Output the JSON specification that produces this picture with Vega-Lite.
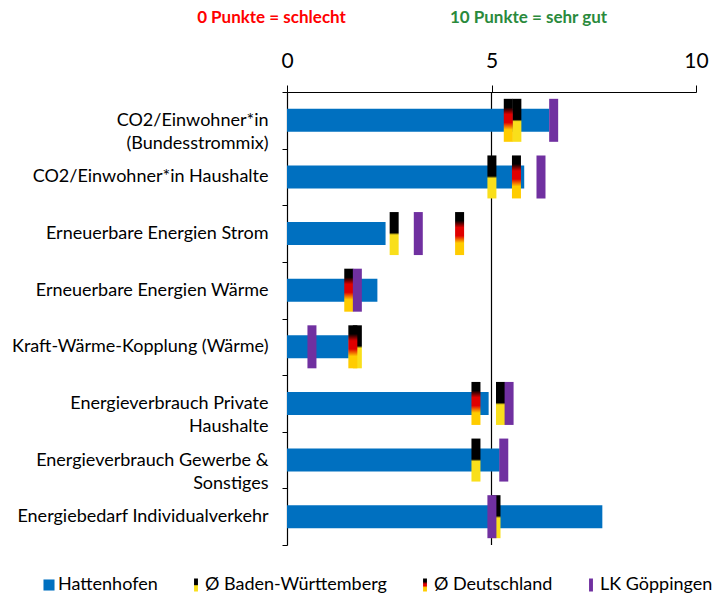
{
  "$schema": "https://vega.github.io/schema/vega-lite/v6.json",
  "width": 409,
  "height": 453,
  "autosize": {"type": "none"},
  "padding": {"left": 287, "top": 92, "right": 29, "bottom": 56},
  "background": "white",
  "config": {"view": {"stroke": null}, "font": "Lato"},
  "data": {"values": [
    {"cat": "CO2/Einwohner*in|(Bundesstrommix)", "series": "Hattenhofen", "value": 6.41},
    {"cat": "CO2/Einwohner*in Haushalte", "series": "Hattenhofen", "value": 5.80},
    {"cat": "Erneuerbare Energien Strom", "series": "Hattenhofen", "value": 2.41},
    {"cat": "Erneuerbare Energien Wärme", "series": "Hattenhofen", "value": 2.21},
    {"cat": "Kraft-Wärme-Kopplung (Wärme)", "series": "Hattenhofen", "value": 1.51},
    {"cat": "Energieverbrauch Private|Haushalte", "series": "Hattenhofen", "value": 4.93},
    {"cat": "Energieverbrauch Gewerbe &|Sonstiges", "series": "Hattenhofen", "value": 5.20},
    {"cat": "Energiebedarf Individualverkehr", "series": "Hattenhofen", "value": 7.71},
    {"cat": "CO2/Einwohner*in|(Bundesstrommix)", "series": "Ø Baden-Württemberg", "value": 5.62},
    {"cat": "CO2/Einwohner*in Haushalte", "series": "Ø Baden-Württemberg", "value": 5.01},
    {"cat": "Erneuerbare Energien Strom", "series": "Ø Baden-Württemberg", "value": 2.62},
    {"cat": "Kraft-Wärme-Kopplung (Wärme)", "series": "Ø Baden-Württemberg", "value": 1.72},
    {"cat": "Energieverbrauch Private|Haushalte", "series": "Ø Baden-Württemberg", "value": 5.22},
    {"cat": "Energieverbrauch Gewerbe &|Sonstiges", "series": "Ø Baden-Württemberg", "value": 4.62},
    {"cat": "Energiebedarf Individualverkehr", "series": "Ø Baden-Württemberg", "value": 5.11},
    {"cat": "CO2/Einwohner*in|(Bundesstrommix)", "series": "Ø Deutschland", "value": 5.41},
    {"cat": "CO2/Einwohner*in Haushalte", "series": "Ø Deutschland", "value": 5.61},
    {"cat": "Erneuerbare Energien Strom", "series": "Ø Deutschland", "value": 4.22},
    {"cat": "Erneuerbare Energien Wärme", "series": "Ø Deutschland", "value": 1.51},
    {"cat": "Kraft-Wärme-Kopplung (Wärme)", "series": "Ø Deutschland", "value": 1.61},
    {"cat": "Energieverbrauch Private|Haushalte", "series": "Ø Deutschland", "value": 4.62},
    {"cat": "CO2/Einwohner*in|(Bundesstrommix)", "series": "LK Göppingen", "value": 6.52},
    {"cat": "CO2/Einwohner*in Haushalte", "series": "LK Göppingen", "value": 6.21},
    {"cat": "Erneuerbare Energien Strom", "series": "LK Göppingen", "value": 3.21},
    {"cat": "Erneuerbare Energien Wärme", "series": "LK Göppingen", "value": 1.72},
    {"cat": "Kraft-Wärme-Kopplung (Wärme)", "series": "LK Göppingen", "value": 0.61},
    {"cat": "Energieverbrauch Private|Haushalte", "series": "LK Göppingen", "value": 5.43},
    {"cat": "Energieverbrauch Gewerbe &|Sonstiges", "series": "LK Göppingen", "value": 5.30},
    {"cat": "Energiebedarf Individualverkehr", "series": "LK Göppingen", "value": 5.01}
  ]},
  "layer": [
    {
      "data": {"values": [{"value": 5}]},
      "mark": {"type": "rule", "color": "#000000", "strokeWidth": 1.2},
      "encoding": {"x": {"field": "value", "type": "quantitative"}}
    },
    {
      "transform": [{"filter": "datum.series === 'Hattenhofen'"}],
      "mark": {"type": "bar", "size": 23},
      "encoding": {
        "y": {
          "field": "cat", "type": "nominal",
          "scale": {"domain": ["CO2/Einwohner*in|(Bundesstrommix)", "CO2/Einwohner*in Haushalte", "Erneuerbare Energien Strom", "Erneuerbare Energien Wärme", "Kraft-Wärme-Kopplung (Wärme)", "Energieverbrauch Private|Haushalte", "Energieverbrauch Gewerbe &|Sonstiges", "Energiebedarf Individualverkehr"], "paddingInner": 0, "paddingOuter": 0},
          "axis": {
            "title": "0 Punkte = schlecht", "titleColor": "#ff0000", "titleFont": "Lato", "titleFontSize": 17, "titleFontWeight": "bold",
            "titleAngle": 0, "titleX": -16, "titleY": -75, "titleAlign": "center", "titleBaseline": "middle",
            "labelExpr": "split(replace(replace(datum.label, '|Haushalte', '|Haushalte\u00a0\u00a0\u00a0\u00a0\u00a0\u00a0\u00a0\u00a0\u00a0\u00a0\u00a0\u00a0\u00a0\u00a0\u00a0\u00a0\u00a0'), '|Sonstiges', '|Sonstiges\u00a0\u00a0\u00a0\u00a0\u00a0\u00a0\u00a0\u00a0\u00a0\u00a0\u00a0\u00a0\u00a0\u00a0\u00a0\u00a0\u00a0\u00a0\u00a0\u00a0\u00a0\u00a0'), '|')",
            "labelFont": "Lato", "labelFontSize": 18, "labelColor": "#000000",
            "labelLineHeight": 23, "labelLimit": 400, "labelPadding": 14,
            "tickBand": "extent", "tickSize": 5, "tickColor": "#000000", "domainColor": "#000000", "domainWidth": 1.2, "grid": false
          }
        },
        "x": {
          "field": "value", "type": "quantitative",
          "scale": {"domain": [0, 10], "nice": false, "zero": true},
          "axis": {
            "orient": "top", "values": [0, 5, 10], "grid": false,
            "labelFont": "Lato", "labelFontSize": 21, "labelColor": "#000000", "labelPadding": 14, "labelFlush": false,
            "tickSize": 7, "tickColor": "#000000", "domainColor": "#000000", "domainWidth": 1.2,
            "title": "10 Punkte = sehr gut", "titleColor": "#2a8a3c", "titleFont": "Lato", "titleFontSize": 17, "titleFontWeight": "bold",
            "titleX": 241, "titleY": -75, "titleAlign": "center", "titleBaseline": "middle", "titleAngle": 0
          }
        },
        "color": {
          "field": "series", "type": "nominal",
          "scale": {"domain": ["Hattenhofen", "Ø Baden-Württemberg", "Ø Deutschland", "LK Göppingen"],
            "range": ["#0070c0",
              {"expr": "{gradient: 'linear', x1: 0, y1: 0, x2: 0, y2: 1, stops: [{offset: 0, color: '#000000'}, {offset: 0.46, color: '#000000'}, {offset: 0.56, color: '#f9df1b'}, {offset: 1, color: '#f9df1b'}]}"},
              {"expr": "{gradient: 'linear', x1: 0, y1: 0, x2: 0, y2: 1, stops: [{offset: 0, color: '#000000'}, {offset: 0.25, color: '#000000'}, {offset: 0.42, color: '#e00000'}, {offset: 0.55, color: '#e00000'}, {offset: 0.7, color: '#ffcc00'}, {offset: 1, color: '#ffcc00'}]}"},
              "#7030a0"]}
        }
      }
    },
    {
      "transform": [{"filter": "datum.series === 'Ø Baden-Württemberg'"}],
      "mark": {"type": "tick", "thickness": 9, "size": 43, "opacity": 1, "filled": true,
        "fill": {"gradient": "linear", "x1": 0, "y1": 0, "x2": 0, "y2": 1, "stops": [{"offset": 0, "color": "#000000"}, {"offset": 0.48, "color": "#000000"}, {"offset": 0.53, "color": "#f9df1b"}, {"offset": 1, "color": "#f9df1b"}]}},
      "encoding": {
        "y": {"field": "cat", "type": "nominal"},
        "x": {"field": "value", "type": "quantitative"}
      }
    },
    {
      "transform": [{"filter": "datum.series === 'Ø Deutschland'"}],
      "mark": {"type": "tick", "thickness": 9, "size": 43, "opacity": 1, "filled": true,
        "fill": {"gradient": "linear", "x1": 0, "y1": 0, "x2": 0, "y2": 1, "stops": [{"offset": 0, "color": "#000000"}, {"offset": 0.2, "color": "#000000"}, {"offset": 0.36, "color": "#e00000"}, {"offset": 0.55, "color": "#e00000"}, {"offset": 0.72, "color": "#ffcc00"}, {"offset": 1, "color": "#ffcc00"}]}},
      "encoding": {
        "y": {"field": "cat", "type": "nominal"},
        "x": {"field": "value", "type": "quantitative"}
      }
    },
    {
      "transform": [{"filter": "datum.series === 'LK Göppingen'"}],
      "mark": {"type": "tick", "thickness": 9, "size": 43, "opacity": 1, "filled": true, "fill": "#7030a0"},
      "encoding": {
        "y": {"field": "cat", "type": "nominal"},
        "x": {"field": "value", "type": "quantitative"}
      }
    },
    {
      "mark": {"type": "point", "filled": true, "opacity": 0},
      "encoding": {
        "y": {"field": "cat", "type": "nominal"},
        "x": {"field": "value", "type": "quantitative"},
        "color": {"field": "series", "type": "nominal",
          "legend": {"title": null, "orient": "none", "direction": "horizontal", "legendX": -247, "legendY": 484,
            "labelFont": "Lato", "labelFontSize": 18, "labelColor": "#000000", "columnPadding": 29, "labelOffset": 0, "labelLimit": 400,
            "symbolSize": 169, "symbolOpacity": 1, "symbolStrokeWidth": 0}},
        "shape": {"field": "series", "type": "nominal",
          "scale": {"domain": ["Hattenhofen", "Ø Baden-Württemberg", "Ø Deutschland", "LK Göppingen"],
            "range": ["M-0.85,-0.85H0.85V0.85H-0.85Z", "M-0.3,-1H0.3V1H-0.3Z", "M-0.3,-1H0.3V1H-0.3Z", "M-0.3,-1H0.3V1H-0.3Z"]},
          "legend": {"title": null, "orient": "none", "direction": "horizontal", "legendX": -247, "legendY": 484,
            "labelFont": "Lato", "labelFontSize": 18, "labelColor": "#000000", "columnPadding": 29, "labelOffset": 0, "labelLimit": 400,
            "symbolSize": 169, "symbolOpacity": 1, "symbolStrokeWidth": 0}}
      }
    }
  ]
}
